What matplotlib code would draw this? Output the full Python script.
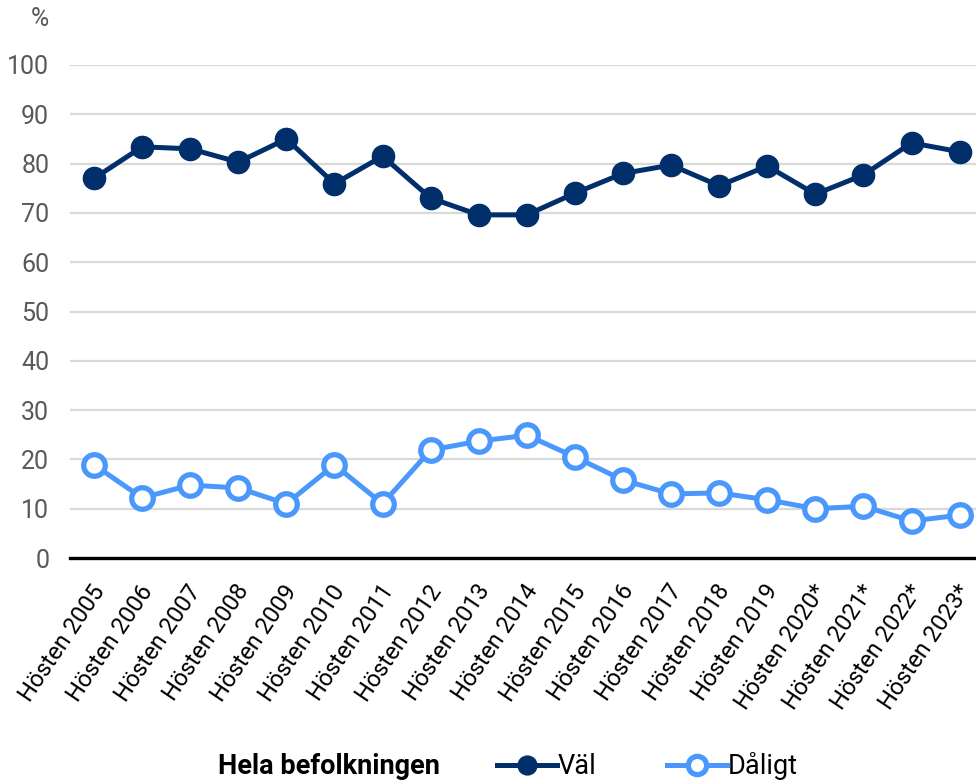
import matplotlib
matplotlib.use("Agg")
import matplotlib.pyplot as plt
from matplotlib.transforms import ScaledTranslation

plt.rcParams['font.family'] = ['Roboto', 'DejaVu Sans']

categories = ["Hösten 2005", "Hösten 2006", "Hösten 2007", "Hösten 2008", "Hösten 2009",
              "Hösten 2010", "Hösten 2011", "Hösten 2012", "Hösten 2013", "Hösten 2014",
              "Hösten 2015", "Hösten 2016", "Hösten 2017", "Hösten 2018", "Hösten 2019",
              "Hösten 2020*", "Hösten 2021*", "Hösten 2022*", "Hösten 2023*"]
val = [77, 83.4, 83, 80.3, 85, 75.9, 81.5, 73, 69.6, 69.6, 74, 78, 79.7, 75.5, 79.5,
       73.8, 77.7, 84.2, 82.4]
daligt = [18.9, 12.2, 14.8, 14.2, 11, 18.9, 11, 21.9, 23.7, 24.9, 20.5, 15.8, 13, 13.2,
          11.8, 10, 10.5, 7.5, 8.7]
yticks = [0, 10, 20, 30, 40, 50, 60, 70, 80, 90, 100]

navy = "#002f6c"
light = "#4a98fb"
gray = "#595959"

fig = plt.figure(figsize=(9.76, 7.81), dpi=100)
ax = fig.add_axes([70/976, 1-558/781, 906/976, (558-65)/781])
x = list(range(len(categories)))

l1, = ax.plot(x, val, color=navy, lw=3.6, marker='o', ms=16, mfc=navy, mec=navy,
              label="Väl", zorder=3)
l2, = ax.plot(x, daligt, color=light, lw=3.6, marker='o', ms=15.5, mfc='white', mec=light,
              mew=3.8, label="Dåligt", zorder=3)

ax.set_ylim(0, 100)
ax.set_xlim(-0.5, 18.34)
ax.set_yticks(yticks)
ax.set_yticklabels([str(t) for t in yticks], color=gray, fontsize=18)
ax.set_xticks(x)
ax.set_xticklabels([])
shift = ScaledTranslation(6/100, -29/100, fig.dpi_scale_trans)
for xi, cat in zip(x, categories):
    ax.text(xi, 0, cat, transform=ax.get_xaxis_transform() + shift, rotation=56,
            ha='right', va='center', rotation_mode='anchor', fontsize=17, color='black',
            clip_on=False)
ax.tick_params(axis='both', length=0)
ax.tick_params(axis='y', pad=15)
ax.grid(axis='y', color='#d9d9d9', lw=1.6)
ax.set_axisbelow(True)
for s in ['top', 'right', 'left']:
    ax.spines[s].set_visible(False)
ax.spines['bottom'].set_color('black')
ax.spines['bottom'].set_linewidth(2.4)
ax.spines['bottom'].set_zorder(2)

fig.text(49/976, 1-19/781, "%", color=gray, fontsize=18, ha='right', va='center')

fig.text(440/976, 1-766/781, "Hela befolkningen", fontsize=19.5, fontweight='bold',
         ha='right', va='center', color='black')
fig.legend(handles=[l1, l2], loc='center left', bbox_to_anchor=(497/976, 1-766/781),
           ncol=2, frameon=False, fontsize=19.5, handlelength=2.2, handletextpad=0.05,
           columnspacing=2.6, borderaxespad=0, borderpad=0, markerscale=0.85)

fig.savefig("out.png", dpi=100)
